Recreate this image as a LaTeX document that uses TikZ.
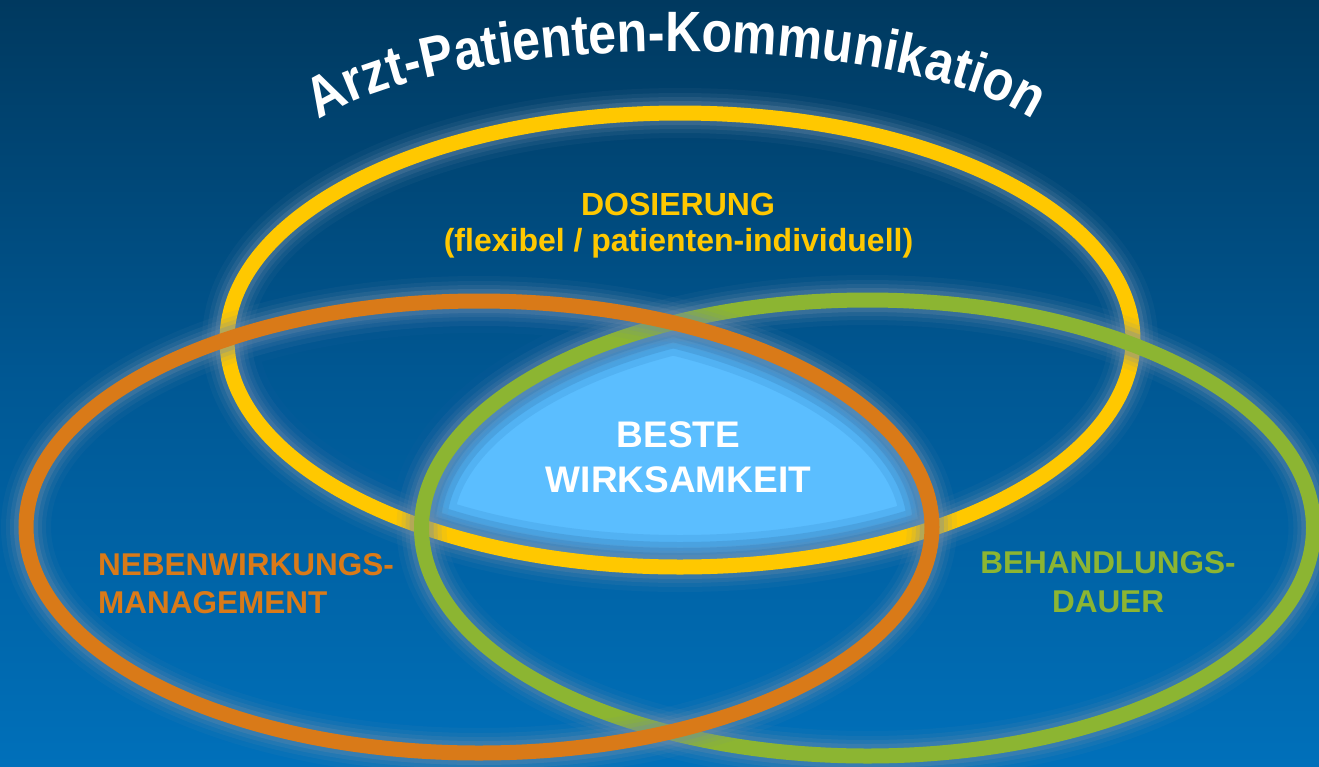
\documentclass[tikz,border=0pt]{standalone}
\usepackage{fontspec}
\setmainfont{Liberation Sans}
\newfontfamily\titlefont[FakeStretch=0.88]{Liberation Sans}
\usetikzlibrary{decorations.text}
\definecolor{bgtop}{RGB}{0,57,95}
\definecolor{bgmid}{RGB}{0,88,148}
\definecolor{bgbot}{RGB}{0,112,186}
\definecolor{ringY}{RGB}{255,200,0}
\definecolor{ringO}{RGB}{217,122,24}
\definecolor{ringG}{RGB}{140,181,50}
\definecolor{coreB}{RGB}{91,190,255}
\definecolor{haloC}{RGB}{110,140,170}
\definecolor{shadeB}{RGB}{25,95,160}
\newcommand\ringdraw[4]{%
  \foreach \w/\o in {50/0.08,40/0.12,32/0.17,24/0.28}{
    \draw[haloC, line width=\w, opacity=\o] #1 ellipse [x radius=#2, y radius=#3];
  }
  \draw[#4, line width=15] #1 ellipse [x radius=#2, y radius=#3];
}
\begin{document}
\begin{tikzpicture}[x=1pt,y=-1pt,
  lbl/.style={inner sep=0pt, font=\bfseries\fontsize{31.5}{36}\selectfont},
  dos/.style={inner sep=0pt, text=ringY, anchor=base, font=\bfseries\fontsize{32}{36}\selectfont},
  core/.style={inner sep=0pt, text=white, anchor=base, font=\bfseries\fontsize{37}{42}\selectfont}]
\useasboundingbox (0,0) rectangle (1319,766);
\shade[top color=bgtop, bottom color=bgbot, middle color=bgmid] (0,0) rectangle (1319,766);

% central intersection
\begin{scope}
  \clip (680,340) ellipse [x radius=453, y radius=227];
  \clip (479,527) ellipse [x radius=453, y radius=226];
  \fill[coreB] (867.5,528) ellipse [x radius=446, y radius=228];
  \foreach \w/\o in {64/0.12,50/0.16,38/0.2,28/0.25}{
    \draw[shadeB, line width=\w, opacity=\o]
      (680,340) ellipse [x radius=453, y radius=227]
      (479,527) ellipse [x radius=453, y radius=226]
      (867.5,528) ellipse [x radius=446, y radius=228];
  }
\end{scope}

% rings
\ringdraw{(680,340)}{453}{227}{ringY}
\ringdraw{(867.5,528)}{446}{228}{ringG}
\ringdraw{(479,527)}{453}{226}{ringO}

% title
\begin{scope}[y=1pt]
\path[decorate, decoration={text along path, text align=center,
   text={|\titlefont\fontsize{57}{64}\selectfont\bfseries\color{white}|Arzt-Patienten-Kommunikation}}]
  (316,-122) arc [start angle=157.4, end angle=22.6, x radius=390, y radius=114];
\end{scope}

% labels
\node[dos] (dos1) at (678,215) {DOSIERUNG};
\node[dos] (dos2) at (678.5,251.5) {(flexibel / patienten-individuell)};
\node[core] (core1) at (678.5,447) {BESTE};
\node[core] (core2) at (678.5,492) {WIRKSAMKEIT};
\node[lbl, text=ringO, anchor=base west] (neb1) at (98,575) {NEBENWIRKUNGS-};
\node[lbl, text=ringO, anchor=base west] (neb2) at (98,613) {MANAGEMENT};
\node[lbl, text=ringG, anchor=base] (beh1) at (1108,573) {BEHANDLUNGS-};
\node[lbl, text=ringG, anchor=base] (beh2) at (1108,612) {DAUER};
\end{tikzpicture}
\end{document}
